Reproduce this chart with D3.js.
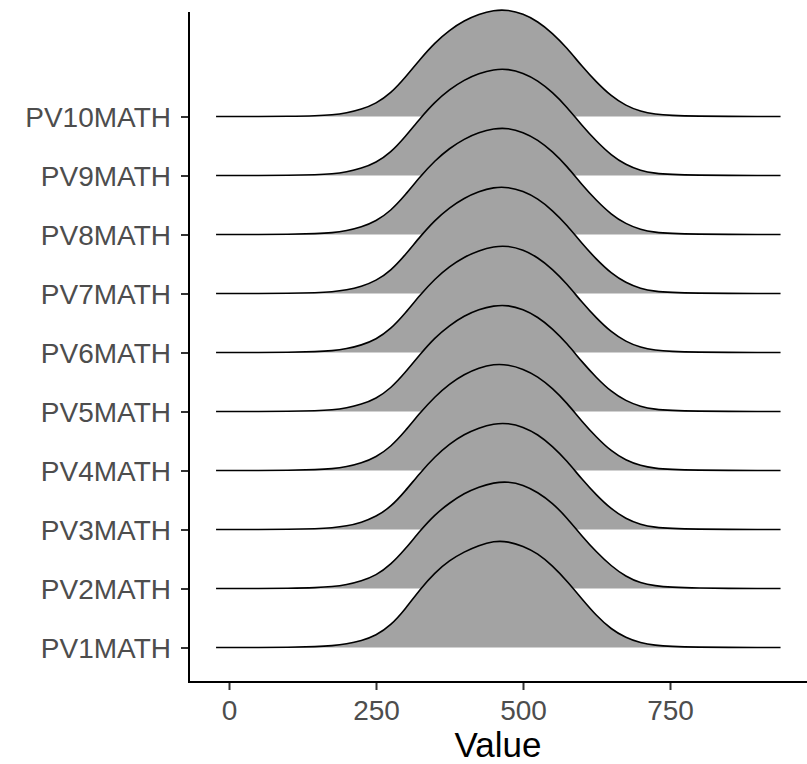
<!DOCTYPE html>
<html>
<head>
<meta charset="utf-8">
<script src="https://cdn.jsdelivr.net/npm/d3@7"></script>
<style>
  body { margin: 0; background: #fff; }
  text { font-family: "Liberation Sans", Arial, sans-serif; }
</style>
</head>
<body>
<div id="screen"></div>
<script>
var width = 807;
var height = 764;

// categories, bottom to top
var categories = ["PV1MATH", "PV2MATH", "PV3MATH", "PV4MATH", "PV5MATH",
                  "PV6MATH", "PV7MATH", "PV8MATH", "PV9MATH", "PV10MATH"];
var xTicks = [0, 250, 500, 750];

// x grid of the density curves
var xs = [-22, 0, 50, 100, 150, 175, 200, 225, 250, 275, 300, 325, 350, 375, 400, 425,
          450, 475, 500, 525, 550, 575, 600, 625, 650, 675, 700, 725, 750, 800, 850, 900, 938];

// relative density (max = 1)
var pv1  = [0,0,0,0.002,0.008,0.016,0.032,0.062,0.112,0.205,0.360,0.545,0.700,0.815,0.895,0.955,0.995,0.992,0.948,0.880,0.765,0.620,0.455,0.295,0.170,0.090,0.042,0.020,0.010,0.003,0.001,0,0];
var pv2  = [0,0,0,0.002,0.008,0.017,0.035,0.070,0.122,0.222,0.370,0.540,0.690,0.800,0.890,0.950,0.990,1.000,0.970,0.900,0.800,0.660,0.490,0.340,0.210,0.110,0.050,0.025,0.012,0.003,0.001,0,0];
var pv3  = [0,0,0,0.002,0.007,0.015,0.032,0.065,0.120,0.210,0.360,0.530,0.680,0.800,0.890,0.950,0.990,0.995,0.960,0.890,0.780,0.640,0.470,0.320,0.190,0.100,0.045,0.020,0.010,0.003,0.001,0,0];
var pv4  = [0,0,0,0.002,0.008,0.016,0.034,0.068,0.125,0.220,0.370,0.540,0.690,0.810,0.900,0.960,0.995,0.990,0.950,0.880,0.770,0.630,0.460,0.310,0.180,0.095,0.045,0.020,0.010,0.003,0.001,0,0];
var pv5  = [0,0,0,0.002,0.007,0.015,0.033,0.066,0.120,0.215,0.365,0.535,0.690,0.805,0.895,0.955,0.990,0.995,0.955,0.885,0.775,0.635,0.465,0.315,0.185,0.098,0.045,0.020,0.010,0.003,0.001,0,0];
var pv6  = [0,0,0,0.002,0.008,0.016,0.034,0.068,0.122,0.218,0.368,0.538,0.688,0.805,0.893,0.953,0.992,0.998,0.960,0.890,0.780,0.640,0.470,0.320,0.190,0.100,0.046,0.021,0.010,0.003,0.001,0,0];
var pv7  = [0,0,0,0.002,0.007,0.015,0.032,0.064,0.118,0.212,0.362,0.532,0.685,0.803,0.893,0.955,0.993,0.995,0.958,0.888,0.778,0.638,0.468,0.318,0.188,0.099,0.045,0.020,0.010,0.003,0.001,0,0];
var pv8  = [0,0,0,0.002,0.008,0.016,0.035,0.069,0.124,0.220,0.370,0.540,0.690,0.806,0.894,0.954,0.991,0.996,0.957,0.887,0.777,0.637,0.467,0.317,0.187,0.098,0.045,0.020,0.010,0.003,0.001,0,0];
var pv9  = [0,0,0,0.002,0.007,0.015,0.033,0.066,0.120,0.214,0.364,0.534,0.687,0.804,0.894,0.954,0.992,0.996,0.959,0.889,0.779,0.639,0.469,0.319,0.189,0.099,0.045,0.020,0.010,0.003,0.001,0,0];
var pv10 = [0,0,0,0.002,0.007,0.015,0.033,0.066,0.121,0.216,0.366,0.536,0.690,0.808,0.897,0.957,0.994,0.997,0.960,0.890,0.780,0.640,0.470,0.320,0.190,0.100,0.046,0.021,0.010,0.003,0.001,0,0];

var series = [pv1, pv2, pv3, pv4, pv5, pv6, pv7, pv8, pv9, pv10];

var svg = d3.select("#screen").append("svg")
  .attr("width", width).attr("height", height);

var scaleX = d3.scaleLinear().domain([0, 750]).range([229, 670]);
var scaleY = d3.scalePoint().domain(categories).range([647.5, 116.5]);
var scaleH = d3.scaleLinear().domain([0, 1]).range([0, 107]);

// ridges, drawn top to bottom so lower ones sit in front
for (var i = categories.length - 1; i >= 0; i--) {
  var base = scaleY(categories[i]);
  var pts = xs.map(function (x, j) { return [x, series[i][j]]; });

  var area = d3.area()
    .x(function (d) { return scaleX(d[0]); })
    .y0(base)
    .y1(function (d) { return base - scaleH(d[1]); })
    .curve(d3.curveBasis);
  var line = d3.line()
    .x(function (d) { return scaleX(d[0]); })
    .y(function (d) { return base - scaleH(d[1]); })
    .curve(d3.curveBasis);

  svg.append("path").attr("d", area(pts))
    .attr("fill", "#a3a3a3").attr("stroke", "none");
  svg.append("path").attr("d", line(pts))
    .attr("fill", "none").attr("stroke", "#000").attr("stroke-width", 1.6);
}

// axes
var xAxis = svg.append("g").attr("transform", "translate(0,682)")
  .call(d3.axisBottom(scaleX).tickValues(xTicks).tickSize(8).tickPadding(10).tickFormat(d3.format("d")));
var yAxis = svg.append("g").attr("transform", "translate(189,0)")
  .call(d3.axisLeft(scaleY).tickSize(8).tickPadding(10));

svg.selectAll(".domain").remove();
svg.selectAll(".tick line").attr("stroke", "#333").attr("stroke-width", 2);
svg.selectAll(".tick text")
  .attr("fill", "#4d4d4d")
  .style("font-size", "28px")
  .style("font-family", "'Liberation Sans', Arial, sans-serif");
yAxis.selectAll(".tick text").attr("dy", "0.36em");
xAxis.selectAll(".tick text").attr("dy", "0.71em");

svg.append("line").attr("x1", 189).attr("x2", 189).attr("y1", 12).attr("y2", 683)
  .attr("stroke", "#000").attr("stroke-width", 2);
svg.append("line").attr("x1", 188).attr("x2", 807).attr("y1", 682).attr("y2", 682)
  .attr("stroke", "#000").attr("stroke-width", 2);

svg.append("text")
  .attr("x", 498).attr("y", 757)
  .attr("text-anchor", "middle")
  .style("font-size", "35px")
  .attr("fill", "#000")
  .text("Value");
</script>
</body>
</html>
